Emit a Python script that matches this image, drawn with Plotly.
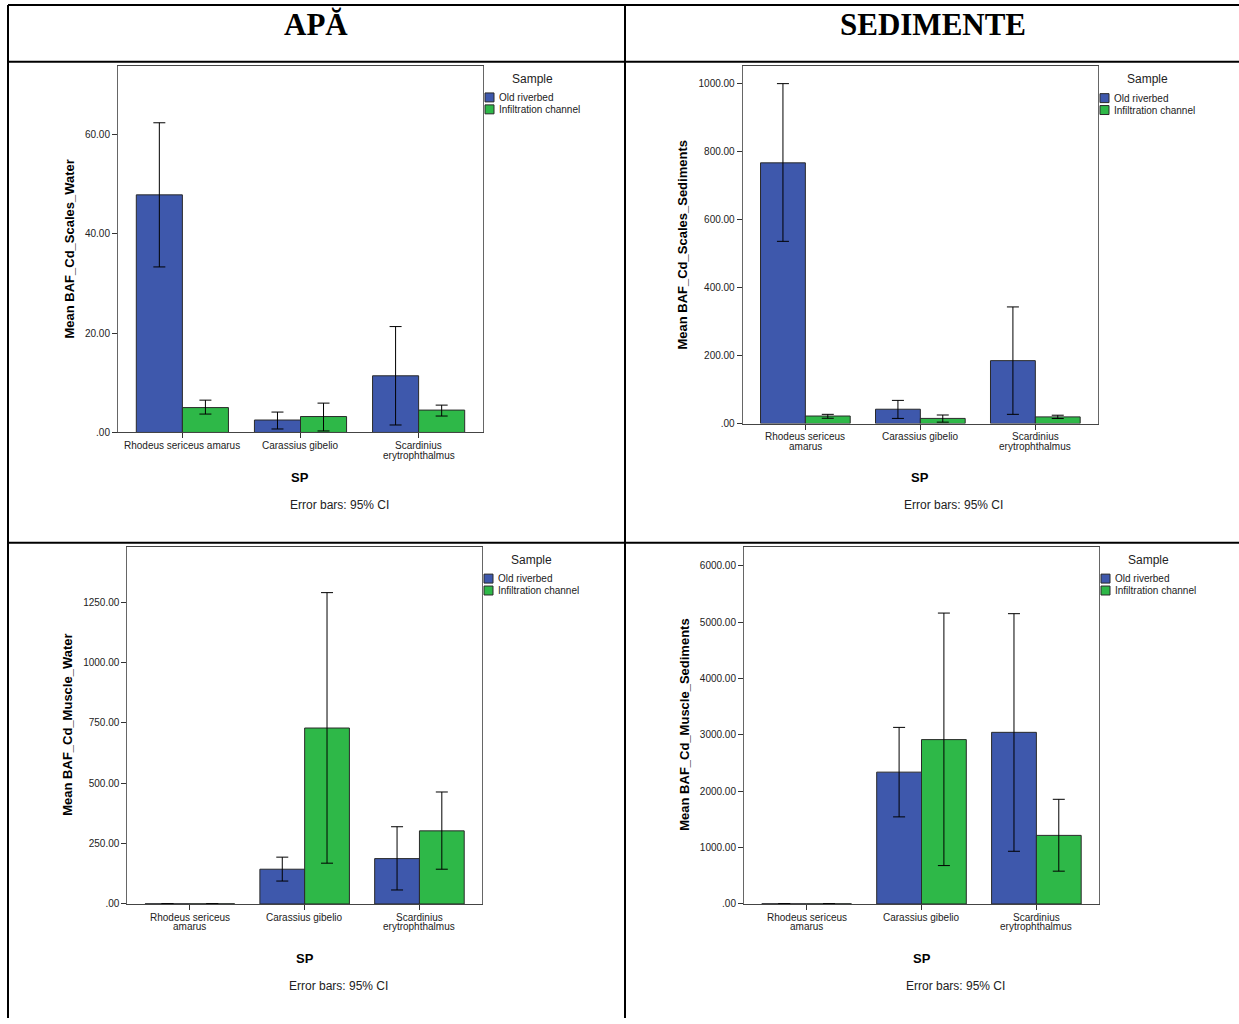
import plotly.graph_objects as go

# ---- data -------------------------------------------------------------
species = ["Rhodeus sericeus amarus", "Carassius gibelio", "Scardinius erytrophthalmus"]
groups = ["Old riverbed", "Infiltration channel"]

# BAF Cd, scales, water
sw_old = [47.8, 2.5, 11.4]
sw_old_lo = [33.3, 0.7, 1.5]
sw_old_hi = [62.3, 4.1, 21.3]
sw_inf = [5.0, 3.2, 4.5]
sw_inf_lo = [3.7, 0.3, 3.3]
sw_inf_hi = [6.5, 5.9, 5.5]

# BAF Cd, scales, sediments
ss_old = [767, 42, 185]
ss_old_lo = [536, 15, 27]
ss_old_hi = [1000, 68, 343]
ss_inf = [22, 15, 19.5]
ss_inf_lo = [15.5, 4, 14.6]
ss_inf_hi = [27, 25, 24.4]

# BAF Cd, muscle, water
mw_old = [0.5, 144, 188]
mw_old_lo = [None, 95, 58]
mw_old_hi = [None, 194, 320]
mw_inf = [0.5, 729, 303]
mw_inf_lo = [None, 169, 144]
mw_inf_hi = [None, 1290, 464]

# BAF Cd, muscle, sediments
ms_old = [2, 2339, 3045]
ms_old_lo = [None, 1545, 935]
ms_old_hi = [None, 3133, 5150]
ms_inf = [2, 2916, 1217]
ms_inf_lo = [None, 681, 582]
ms_inf_hi = [None, 5161, 1857]

# tick labels
tick_sw = [0, 20, 40, 60]
tick_ss = [0, 200, 400, 600, 800, 1000]
tick_mw = [0, 250, 500, 750, 1000, 1250]
tick_ms = [0, 1000, 2000, 3000, 4000, 5000, 6000]

xlabels_single = [["Rhodeus sericeus amarus"], ["Carassius gibelio"],
                  ["Scardinius", "erytrophthalmus"]]
xlabels_split = [["Rhodeus sericeus", "amarus"], ["Carassius gibelio"],
                 ["Scardinius", "erytrophthalmus"]]

BLUE = "#3e58ac"
GREEN = "#2eb848"
FONT = "Liberation Sans, Arial, sans-serif"
W, H = 1239, 1024


def px(x):
    return x / W


def py(y):
    return 1 - y / H


def fmt(v):
    return ".00" if v == 0 else f"{v:.2f}"


def err(mean, lo, hi):
    up = [None if h is None else h - m for m, h in zip(mean, hi)]
    dn = [None if l is None else m - l for m, l in zip(mean, lo)]
    return dict(type="data", symmetric=False, array=up, arrayminus=dn,
                color="black", thickness=1, width=6)


def label(x, y, text, size, color="#222", xanchor="center", **kw):
    return dict(x=px(x), y=py(y), xref="paper", yref="paper", text=text,
                showarrow=False, xanchor=xanchor, yanchor="middle",
                font=dict(family=kw.pop("family", FONT), size=size, color=color), **kw)


panels = [
    dict(suf="", data=(sw_old, sw_old_lo, sw_old_hi, sw_inf, sw_inf_lo, sw_inf_hi),
         ticks=tick_sw, ymax=73.8, xd=(118, 483), yd=(66, 435),
         ytitle="Mean BAF_Cd_Scales_Water", ytpos=(70, 251),
         sp=(300, 480), note=(339, 508), xlabs=xlabels_single),
    dict(suf="2", data=(ss_old, ss_old_lo, ss_old_hi, ss_inf, ss_inf_lo, ss_inf_hi),
         ticks=tick_ss, ymax=1051, xd=(742.7, 1098), yd=(66.7, 426),
         ytitle="Mean BAF_Cd_Scales_Sediments", ytpos=(683, 246),
         sp=(920, 480), note=(953, 508), xlabs=xlabels_split),
    dict(suf="3", data=(mw_old, mw_old_lo, mw_old_hi, mw_inf, mw_inf_lo, mw_inf_hi),
         ticks=tick_mw, ymax=1480, xd=(127.3, 482), yd=(550, 909.3),
         ytitle="Mean BAF_Cd_Muscle_Water", ytpos=(68, 729),
         sp=(305, 964), note=(338, 992), xlabs=xlabels_split),
    dict(suf="4", data=(ms_old, ms_old_lo, ms_old_hi, ms_inf, ms_inf_lo, ms_inf_hi),
         ticks=tick_ms, ymax=6337, xd=(744, 1099), yd=(550, 909.3),
         ytitle="Mean BAF_Cd_Muscle_Sediments", ytpos=(685, 729),
         sp=(922, 964), note=(955, 992), xlabs=xlabels_split),
]

fig = go.Figure()
layout = {}
annotations = []
shapes = []

for p in panels:
    suf = p["suf"]
    xa, ya = "x" + suf, "y" + suf
    old, old_lo, old_hi, inf, inf_lo, inf_hi = p["data"]
    (x0, x1), (y0, y1) = p["xd"], p["yd"]
    fig.add_trace(go.Bar(x=species, y=old, name=groups[0], marker_color=BLUE,
                         marker_line=dict(color="#2a2a2a", width=1),
                         error_y=err(old, old_lo, old_hi),
                         xaxis=xa, yaxis=ya, showlegend=False))
    fig.add_trace(go.Bar(x=species, y=inf, name=groups[1], marker_color=GREEN,
                         marker_line=dict(color="#2a2a2a", width=1),
                         error_y=err(inf, inf_lo, inf_hi),
                         xaxis=xa, yaxis=ya, showlegend=False))

    layout["xaxis" + suf] = dict(
        domain=[px(x0), px(x1)], anchor=ya, type="category",
        range=[-0.545, 2.545], showgrid=False, zeroline=False,
        showline=True, linecolor="#444", linewidth=1, mirror=True,
        ticks="outside", ticklen=5, tickcolor="#333", showticklabels=False,
    )
    layout["yaxis" + suf] = dict(
        domain=[py(y1), py(y0)], anchor=xa, range=[0, p["ymax"]],
        showgrid=False, zeroline=False, showline=True, linecolor="#666",
        linewidth=1, mirror=True, ticks="outside", ticklen=5, tickcolor="#333",
        tickvals=p["ticks"], ticktext=[fmt(t) for t in p["ticks"]],
        tickfont=dict(family=FONT, size=10, color="#222"),
    )

    # category labels under the axis, one line each
    for cat, lines in zip(species, p["xlabs"]):
        for i, line in enumerate(lines):
            annotations.append(dict(
                x=cat, y=0, xref=xa, yref=ya, text=line, showarrow=False,
                xanchor="center", yanchor="top", yshift=-6 - 9.5 * i,
                font=dict(family=FONT, size=10, color="#222")))

    # axis titles and footnote
    annotations.append(label(*p["ytpos"], f"<b>{p['ytitle']}</b>", 13,
                             color="black", textangle=-90))
    annotations.append(label(*p["sp"], "<b>SP</b>", 13, color="black"))
    annotations.append(label(*p["note"], "Error bars: 95% CI", 12))

    # legend
    lx = x1 + 2
    ly = y0 + 13
    annotations.append(label(lx + 47, ly, "Sample", 12))
    for k, (g, col) in enumerate(zip(groups, [BLUE, GREEN])):
        cy = ly + 19 + 12 * k
        shapes.append(dict(type="rect", xref="paper", yref="paper",
                           x0=px(lx), x1=px(lx + 9), y0=py(cy + 4.5), y1=py(cy - 4.5),
                           fillcolor=col, line=dict(color="#2a2a2a", width=1)))
        annotations.append(label(lx + 12, cy, g, 10, xanchor="left"))

# table frame and headers
frame = [
    (8, 5, 1239, 5), (8, 62, 1239, 62), (8, 546, 1239, 546),
    (8, 5, 8, H), (625, 5, 625, H),
]
for a, b, c, d in frame:
    shapes.append(dict(type="line", xref="paper", yref="paper",
                       x0=px(a), y0=py(b), x1=px(c), y1=py(d),
                       line=dict(color="black", width=2)))

for text, xcen in [("APĂ", 316), ("SEDIMENTE", 933)]:
    annotations.append(label(xcen, 25, f"<b>{text}</b>", 31, color="black",
                             family="Liberation Serif, Times New Roman, serif"))

fig.update_layout(
    width=W, height=H, margin=dict(l=0, r=0, t=0, b=0),
    paper_bgcolor="white", plot_bgcolor="white",
    barmode="group", bargap=0.22, bargroupgap=0,
    annotations=annotations, shapes=shapes, **layout,
)

fig.write_html("out.html")
